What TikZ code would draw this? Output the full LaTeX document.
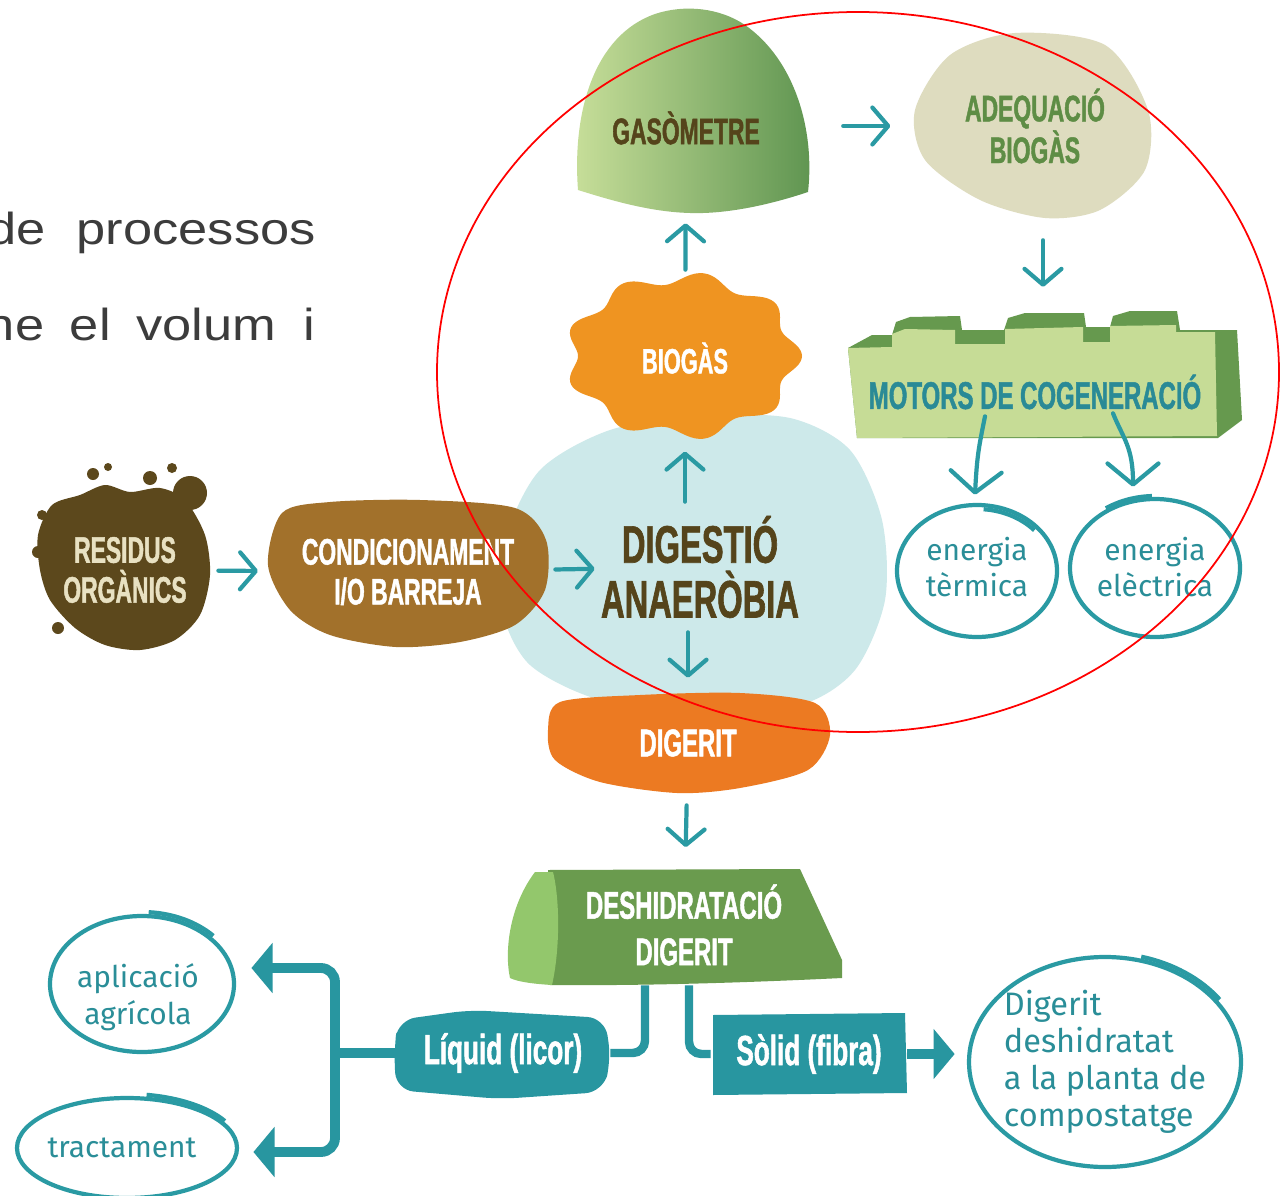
\documentclass[tikz,border=0pt]{standalone}
\usepackage{fontspec}
\setmainfont{Liberation Sans}
\newfontfamily\tagfont[FakeStretch=0.62,FakeBold=1.2]{Liberation Sans}
\newfontfamily\handfont{Fira Sans}
\usepackage{tikz}
\usetikzlibrary{arrows.meta}

\definecolor{arrowteal}{HTML}{2A9AA3}
\definecolor{boxteal}{HTML}{2896A0}
\definecolor{handteal}{HTML}{2A8E98}
\definecolor{mudbrown}{HTML}{5C481C}
\definecolor{claybrown}{HTML}{A2712B}
\definecolor{inkbrown}{HTML}{55441B}
\definecolor{cream}{HTML}{E8E1C2}
\definecolor{biogorange}{HTML}{EF9421}
\definecolor{digorange}{HTML}{EC7A22}
\definecolor{tankblue}{HTML}{CDE9EA}
\definecolor{sand}{HTML}{DEDCBF}
\definecolor{leafink}{HTML}{5E8D45}
\definecolor{paleleaf}{HTML}{C6DC96}
\definecolor{darkleaf}{HTML}{66994E}
\definecolor{gasleft}{HTML}{C8DF9A}
\definecolor{gasright}{HTML}{5E9450}
\definecolor{deshdark}{HTML}{6A9B4E}
\definecolor{deshlight}{HTML}{93C76C}
\definecolor{motorink}{HTML}{2A8A96}
\definecolor{slidegray}{HTML}{3C3C3C}

\begin{document}
\begin{tikzpicture}[x=0.02cm, y=-0.02cm,
  arr/.style={arrowteal, line width=2.4pt, line cap=round, -{Straight Barb[length=9pt,width=21pt,round]}},
  bigarr/.style={arr, -{Straight Barb[length=12pt,width=29pt,round]}},
  pipe/.style={boxteal, line width=4.8pt},
  fatarr/.style={pipe, line width=5.6pt, -{Triangle[length=12pt,width=28pt]}},
  ring/.style={draw=arrowteal, line width=2.4pt},
  tag/.style={inner sep=0pt, align=center, font={\tagfont\bfseries\fontsize{21}{22.7}\selectfont}},
  hand/.style={inner sep=0pt, align=center, text=handteal, font={\handfont\fontsize{17}{21}\selectfont}},
  sz/.style 2 args={minimum width=#1*0.02cm, minimum height=#2*0.02cm}]

\useasboundingbox[fill=white] (0,0) rectangle (1281,1196);

\begin{scope}
\clip (0,0) rectangle (1281,1196);
\node[anchor=base east, inner sep=0pt, text=slidegray, font=\fontsize{25.5}{30}\selectfont] (line1) at (316,245) {\scalebox{1.17}[1]{de\hspace{15pt}processos}};
\node[anchor=base east, inner sep=0pt, text=slidegray, font=\fontsize{25.5}{30}\selectfont] (line2) at (316,340) {\scalebox{1.17}[1]{ne\hspace{12.5pt}el\hspace{12.5pt}volum\hspace{13.5pt}i}};
\end{scope}

\fill[tankblue] plot[smooth cycle] coordinates {(505,540) (540,470) (610,430) (700,416) (790,418) (850,450) (882,520) (885,600) (855,670) (800,705) (700,712) (600,700) (530,665) (502,610)};

\fill[mudbrown] plot[smooth cycle] coordinates {(52,505) (80,495) (105,485) (130,492) (160,488) (185,500) (205,535) (210,575) (200,615) (175,640) (140,650) (105,645) (75,628) (50,600) (40,570) (38,535)};
\foreach \cx/\cy/\r in {190/493/17, 93/474/6, 108/467/4, 150/478/7, 38/552/6, 42/515/5, 58/628/6, 172/468/5}
  \fill[mudbrown] (\cx,\cy) circle[radius=\r];

\fill[claybrown] plot[smooth cycle] coordinates {(282,513) (330,502) (420,500) (515,508) (546,540) (545,590) (515,625) (460,642) (396,647) (330,635) (290,610) (268,565)};

\fill[biogorange] plot[domain=0:360, samples=181, smooth, variable=\t] ({683+(112+7*cos(9*\t))*cos(\t)}, {356+(78+6*cos(9*\t))*sin(\t)}) -- cycle;

\shade[left color=gasleft, right color=gasright] (578,190) .. controls (572,110) and (595,35) .. (655,14) .. controls (685,4) and (720,8) .. (745,25) .. controls (795,60) and (815,130) .. (808,192) .. controls (760,208) and (720,214) .. (690,213) .. controls (650,212) and (610,200) .. (578,190) -- cycle;

\fill[sand] plot[smooth cycle] coordinates {(915,110) (950,55) (1015,33) (1105,45) (1148,110) (1145,170) (1100,210) (1045,218) (980,200) (925,160)};

\fill[darkleaf] (848,348) -- (872,335) -- (892,335) -- (896,322) -- (910,317) -- (960,316) -- (962,330) -- (1004,330) -- (1008,318) -- (1025,313) -- (1084,313) -- (1086,327) -- (1110,327) -- (1113,316) -- (1130,311) -- (1177,311) -- (1180,330) -- (1237,330) -- (1242,420) -- (1218,438) -- (857,438) -- cycle;
\fill[paleleaf] (848,348) -- (892,347) -- (892,334) -- (905,329) -- (955,330) -- (955,344) -- (1005,344) -- (1005,329) -- (1083,327) -- (1083,342) -- (1110,342) -- (1110,326) -- (1176,325) -- (1176,332) -- (1215,332) -- (1217,436) -- (857,438) -- cycle;

\fill[digorange] plot[smooth cycle] coordinates {(560,702) (640,695) (740,693) (815,703) (830,735) (808,770) (740,788) (677,793) (600,782) (555,760) (548,730)};

\fill[deshdark] (548,870) -- (800,869) -- (842,960) -- (842,978) .. controls (760,982) and (650,986) .. (550,985) -- cycle;
\fill[deshlight] (535,872) -- (553,872) .. controls (560,900) and (560,950) .. (552,985) .. controls (535,984) and (518,982) .. (510,978) .. controls (504,950) and (510,905) .. (535,872) -- cycle;

\fill[boxteal, rounded corners=10pt] (398,1020) -- (470,1010) -- (605,1018) -- (611,1060) -- (603,1092) -- (500,1099) -- (396,1090) -- (394,1050) -- cycle;
\fill[boxteal] (713,1015) -- (905,1013) -- (907,1093) -- (713,1095) -- cycle;

\draw[ring] (977,571) ellipse[x radius=80, y radius=66];
\draw[ring] (977,571) ++(-85:76 and 62) arc[start angle=-85, end angle=-41, x radius=76, y radius=62];
\draw[ring] (1155,568) ellipse[x radius=85, y radius=69];
\draw[ring] (1155,568) ++(-124:88 and 72) arc[start angle=-124, end angle=-92, x radius=88, y radius=72];
\draw[ring] (142,984) ellipse[x radius=92, y radius=68];
\draw[ring] (142,984) ++(-86:96 and 72) arc[start angle=-86, end angle=-42, x radius=96, y radius=72];
\draw[ring] (127,1148) ellipse[x radius=110, y radius=50];
\draw[ring] (127,1148) ++(-80:113 and 54) arc[start angle=-80, end angle=-30, x radius=113, y radius=54];
\draw[ring] (1105,1062) ellipse[x radius=136, y radius=105];
\draw[ring] (1105,1062) ++(-75:140 and 109) arc[start angle=-75, end angle=-35, x radius=140, y radius=109];

\node[tag, sz={240}{190}, text=inkbrown] (gaso) at (686,128) {GASÒMETRE};
\node[tag, sz={236}{184}, text=leafink] (adeq) at (1035,126) {ADEQUACIÓ\\BIOGÀS};
\node[tag, sz={236}{176}, text=white, font={\tagfont\bfseries\fontsize{20}{22}\selectfont}] (biog) at (685,358) {BIOGÀS};
\node[tag, sz={372}{92}, text=motorink, font={\tagfont\bfseries\fontsize{22}{24}\selectfont}] (motors) at (1035,392) {MOTORS DE COGENERACIÓ};
\node[hand, sz={160}{132}] (term) at (977,567) {energia\\tèrmica};
\node[hand, sz={170}{138}] (elec) at (1155,567) {energia\\elèctrica};
\node[tag, sz={172}{180}, text=cream] (res) at (125,570) {RESIDUS\\ORGÀNICS};
\node[tag, sz={280}{146}, text=white] (cond) at (408,572) {CONDICIONAMENT\\I/O BARREJA};
\node[tag, sz={210}{130}, text=inkbrown, font={\tagfont\bfseries\fontsize{30}{31.2}\selectfont}] (dig) at (700,567) {DIGESTIÓ\\ANAERÒBIA};
\node[tag, sz={282}{104}, text=white, font={\tagfont\bfseries\fontsize{22}{24}\selectfont}] (digerit) at (688,743) {DIGERIT};
\node[tag, sz={300}{120}, text=white, font={\tagfont\bfseries\fontsize{22}{26.5}\selectfont}] (desh) at (684,925) {DESHIDRATACIÓ\\DIGERIT};
\node[tag, sz={214}{88}, text=white, font={\tagfont\bfseries\fontsize{24}{26}\selectfont}] (liq) at (503,1053) {Líquid (licor)};
\node[tag, sz={196}{82}, text=white, font={\tagfont\bfseries\fontsize{24}{26}\selectfont}] (sol) at (809,1054) {Sòlid (fibra)};
\node[hand, sz={184}{136}] (apl) at (138,997) {aplicació\\agrícola};
\node[hand, sz={220}{100}] (tract) at (122,1148) {tractament};
\node[hand, sz={274}{210}, align=left, font={\handfont\fontsize{18.5}{21}\selectfont}] (comp) at (1105,1062) {Digerit\\deshidratat\\a la planta de\\compostatge};

\draw[arr, shorten <=4pt, shorten >=5.5pt] (res) -- (cond);
\draw[arr, shorten <=4pt] (cond) -- (dig);
\draw[arr, shorten >=3pt] (dig.north -| biog.south) -- (biog.south);
\draw[arr] (biog) -- (gaso);
\draw[arr, shorten <=21pt, shorten >=15pt] (gaso.east |- adeq.west) -- (adeq.west);
\draw[arr, shorten <=12.5pt, shorten >=33.5pt] ([xshift=0.16cm]adeq.south) -- ([xshift=0.16cm]adeq.south |- motors.north);
\draw[bigarr] ([shift={(-50,-22)}]motors.south) .. controls +(-6,30) and +(2,-40) .. ([shift={(-2,-6)}]term.north);
\draw[bigarr] ([shift={(78,-25)}]motors.south) .. controls +(10,25) and +(0,-40) .. ([shift={(-22,-11)}]elec.north);
\draw[arr, shorten >=7.4pt] (dig.south -| digerit.north) -- (digerit.north);
\draw[arr, shorten <=5.7pt, shorten >=10pt] (digerit) -- (desh);

\draw[pipe, rounded corners=7pt] ([xshift=-0.78cm]desh.south) |- (liq.east);
\draw[pipe, rounded corners=7pt] ([xshift=0.1cm]desh.south) |- (sol.west);
\draw[fatarr, shorten >=7.4pt] (sol.east) -- (sol.east -| comp.west);

\coordinate (fork) at (335,1053);
\coordinate (upfork) at (335,968);
\coordinate (downfork) at (335,1152);
\draw[pipe, line width=5.6pt] (liq.west) -- (fork);
\draw[fatarr, rounded corners=8pt, shorten >=12pt] (fork) -- (upfork) -- (upfork -| apl.east);
\draw[fatarr, rounded corners=8pt, shorten >=12pt] (fork) -- (downfork) -- (downfork -| tract.east);

\draw[red, line width=1pt] (858,372) ellipse[x radius=421, y radius=360];

\end{tikzpicture}
\end{document}
